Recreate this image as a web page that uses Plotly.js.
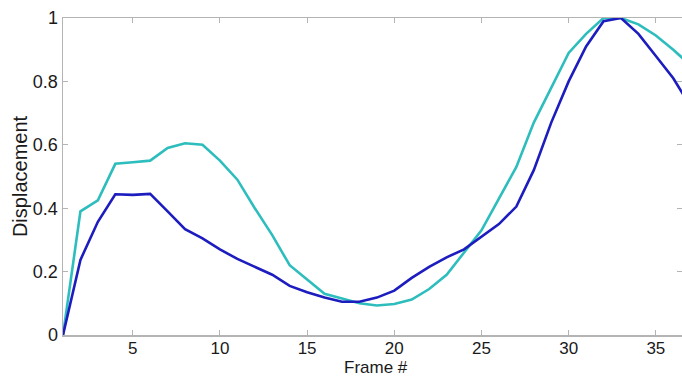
<!DOCTYPE html>
<html><head><meta charset="utf-8">
<script src="https://cdn.plot.ly/plotly-3.0.1.min.js"></script>
<style>html,body{margin:0;padding:0;background:#fff;}#c{width:682px;height:377px;}</style>
</head><body><div id="c"></div>
<script>
const frames = [1,2,3,4,5,6,7,8,9,10,11,12,13,14,15,16,17,18,19,20,21,22,23,24,25,26,27,28,29,30,31,32,33,34,35,36,37];
const blueSeries = [0,0.237,0.357,0.444,0.442,0.445,0.39,0.334,0.305,0.27,0.24,0.215,0.19,0.155,0.135,0.118,0.105,0.105,0.118,0.14,0.18,0.215,0.245,0.27,0.31,0.35,0.405,0.52,0.67,0.80,0.91,0.99,1.0,0.95,0.88,0.81,0.72];
const cyanSeries = [0,0.39,0.425,0.54,0.545,0.55,0.59,0.605,0.60,0.55,0.49,0.40,0.315,0.22,0.175,0.13,0.115,0.10,0.093,0.098,0.112,0.145,0.19,0.26,0.33,0.43,0.53,0.67,0.78,0.89,0.95,1.0,1.0,0.98,0.945,0.9,0.85];
const xTicks = [5,10,15,20,25,30,35];
const yTicks = [0,0.2,0.4,0.6,0.8,1];
const yTickText = ['0','0.2','0.4','0.6','0.8','1'];

const FONT = 'Liberation Sans, Arial, sans-serif';
const data = [
  {x: frames, y: cyanSeries, mode:'lines', line:{color:'#2ebdbd', width:2.6}},
  {x: frames, y: blueSeries, mode:'lines', line:{color:'#1c1cbf', width:2.6}}
];
const axisCommon = {showgrid:false, zeroline:false, showline:true, linecolor:'#b4b4b4', linewidth:1.5, mirror:'ticks', ticks:'inside', ticklen:5, tickcolor:'#b4b4b4', tickfont:{family:FONT, size:18, color:'#1a1a1a'}};
const layout = {
  width:682, height:377, showlegend:false,
  paper_bgcolor:'#fff', plot_bgcolor:'#fff',
  margin:{l:63, r:0, t:18, b:42},
  xaxis: Object.assign({}, axisCommon, {range:[1,36.5], tickvals:xTicks, ticklabelstandoff:-3,
    tickfont:{family:FONT, size:17, color:'#1a1a1a'}}),
  yaxis: Object.assign({}, axisCommon, {range:[0,1], tickvals:yTicks, ticktext:yTickText, ticklabelstandoff:0,
    title:{text:'Displacement', font:{family:FONT, size:20, color:'#1a1a1a'}, standoff:0}}),
  annotations:[{text:'Frame #', xref:'paper', yref:'paper', x:0.505, y:0, xanchor:'center', yanchor:'top',
    yshift:-21, showarrow:false, font:{family:FONT, size:17, color:'#1a1a1a'}}]
};
Plotly.newPlot('c', data, layout, {staticPlot:true, displayModeBar:false});
</script></body></html>
